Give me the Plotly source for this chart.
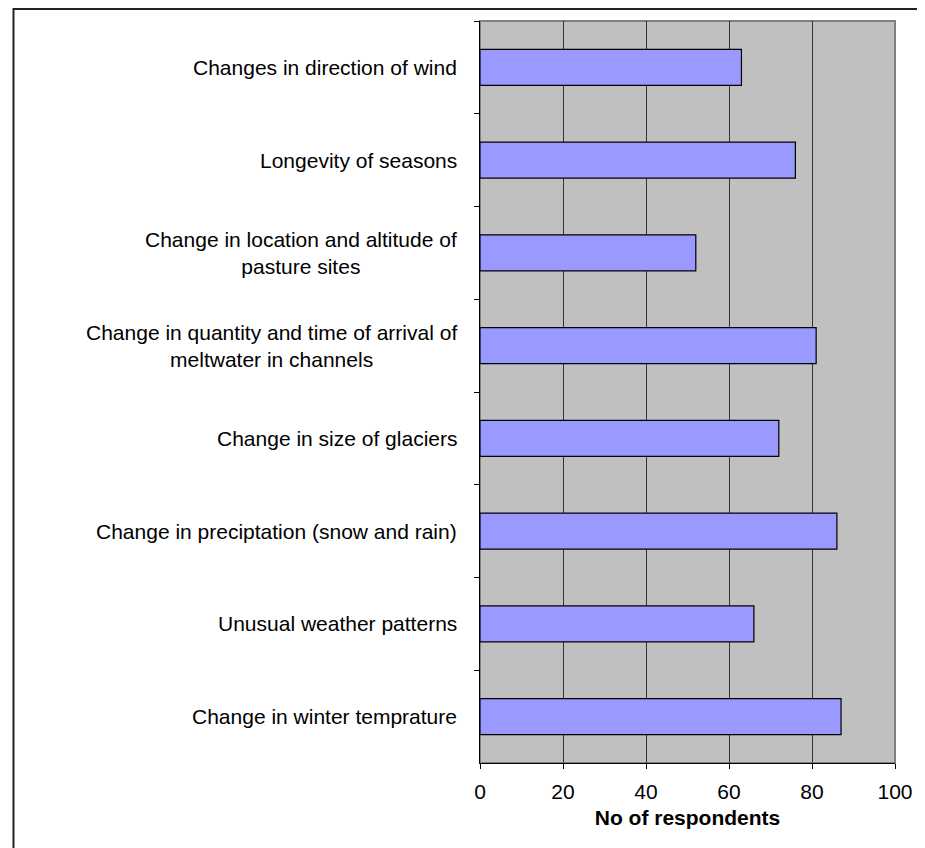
import plotly.graph_objects as go

# Categories listed top to bottom as in the reference
categories = [
    "Changes in direction of wind",
    "Longevity of seasons",
    "Change in location and altitude of<br>pasture sites",
    "Change in quantity and time of arrival of<br>meltwater in channels",
    "Change in size of glaciers",
    "Change in preciptation (snow and rain)",
    "Unusual weather patterns",
    "Change in winter temprature",
]
respondents = [63, 76, 52, 81, 72, 86, 66, 87]
x_ticks = [0, 20, 40, 60, 80, 100]
x_title = "No of respondents"

FONT = "Liberation Sans, Arial, sans-serif"

fig = go.Figure()
fig.add_trace(go.Bar(
    x=respondents,
    y=categories,
    orientation="h",
    marker=dict(color="#9999FF", line=dict(color="#000000", width=1.2)),
    hoverinfo="x+y",
))

annotations = []
for c in categories:
    annotations.append(dict(
        x=0, xref="paper", y=c, yref="y",
        xanchor="right", yanchor="middle", xshift=-21,
        text=c, showarrow=False, align="center",
        font=dict(family=FONT, size=21, color="#000000"),
    ))

shapes = [
    # gray plot-area border (top and right)
    dict(type="rect", xref="x domain", yref="y domain", x0=0, x1=1, y0=0, y1=1,
         line=dict(color="#808080", width=2), layer="below"),
    # outer chart frame
    dict(type="rect", xref="paper", yref="paper", x0=-1.1241, x1=1.2, y0=-0.2, y1=1.0162,
         line=dict(color="#222222", width=2), layer="above"),
]

fig.update_layout(
    width=917, height=840,
    margin=dict(l=472, r=26, t=13, b=85),
    paper_bgcolor="#FFFFFF",
    plot_bgcolor="#C0C0C0",
    bargap=0.61,
    showlegend=False,
    font=dict(family=FONT, size=21, color="#000000"),
    annotations=annotations,
    shapes=shapes,
    xaxis=dict(
        range=[0, 100],
        tickvals=x_ticks,
        ticktext=[str(v) for v in x_ticks],
        ticks="outside", ticklen=5, tickcolor="#000000",
        showgrid=True, gridcolor="#333333", gridwidth=1,
        zeroline=False,
        showline=True, linecolor="#000000", linewidth=1,
        tickfont=dict(family=FONT, size=21, color="#000000"),
        ticklabelstandoff=5,
        title=dict(text="<b>" + x_title + "</b>",
                   font=dict(family=FONT, size=21, color="#000000"),
                   standoff=8),
    ),
    yaxis=dict(
        categoryorder="array", categoryarray=categories,
        autorange="reversed",
        tickson="boundaries",
        ticks="outside", ticklen=5, tickcolor="#000000",
        showticklabels=False,
        showgrid=False, zeroline=False,
        showline=True, linecolor="#000000", linewidth=1,
    ),
)

fig.write_html("out.html")
